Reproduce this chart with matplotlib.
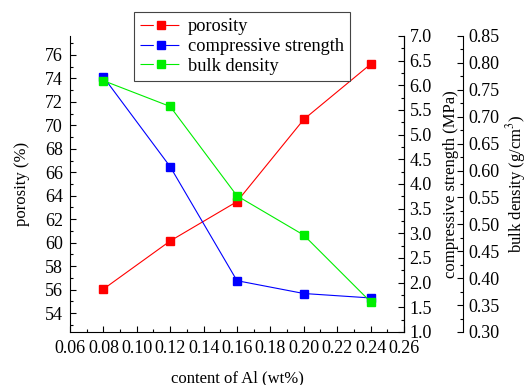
import matplotlib
matplotlib.use("Agg")
import matplotlib.pyplot as plt
from matplotlib.lines import Line2D
from matplotlib.ticker import MultipleLocator

# -----------------------------
# Data
# -----------------------------
al_content = [0.08, 0.12, 0.16, 0.20, 0.24]
porosity = [56.05, 60.15, 63.5, 70.5, 75.2]
strength = [6.17, 4.35, 2.04, 1.78, 1.69]
bulk_density = [0.767, 0.719, 0.553, 0.480, 0.356]

series_names = ["porosity", "compressive strength", "bulk density"]
series_colors = ["red", "blue", "#00ee00"]

plt.rcParams["font.family"] = ["Liberation Serif", "DejaVu Serif"]
plt.rcParams["font.size"] = 13
plt.rcParams["mathtext.fontset"] = "stix"

fig = plt.figure(figsize=(5.29, 3.85), dpi=100)
ax = fig.add_axes([0.1323, 0.1377, 0.6314, 0.7688])
ax2 = ax.twinx()
ax3 = ax.twinx()
ax3.spines["right"].set_position(("axes", 1 + 59 / 334))

line_kw = dict(marker="s", markersize=5.5, linewidth=0.8)
ax.plot(al_content, porosity, color=series_colors[0], **line_kw)
ax2.plot(al_content, strength, color=series_colors[1], **line_kw)
ax3.plot(al_content, bulk_density, color=series_colors[2], **line_kw)

ax.set_xlim(0.06, 0.26)
ax.set_ylim(52.4, 77.6)
ax2.set_ylim(1.0, 7.0)
ax3.set_ylim(0.30, 0.85)

ax.xaxis.set_major_locator(MultipleLocator(0.02))
ax.xaxis.set_minor_locator(MultipleLocator(0.01))
ax.yaxis.set_major_locator(MultipleLocator(2))
ax.yaxis.set_minor_locator(MultipleLocator(1))
ax2.yaxis.set_major_locator(MultipleLocator(0.5))
ax2.yaxis.set_minor_locator(MultipleLocator(0.25))
ax3.yaxis.set_major_locator(MultipleLocator(0.05))
ax3.yaxis.set_minor_locator(MultipleLocator(0.025))

ax.xaxis.set_major_formatter(plt.FuncFormatter(lambda v, p: f"{v:.2f}"))
ax2.yaxis.set_major_formatter(plt.FuncFormatter(lambda v, p: f"{v:.1f}"))
ax3.yaxis.set_major_formatter(plt.FuncFormatter(lambda v, p: f"{v:.2f}"))

for a in (ax, ax2, ax3):
    a.tick_params(which="major", direction="in", length=4, width=0.8, pad=4)
    a.tick_params(which="minor", direction="in", length=2.5, width=0.8)
    for s in a.spines.values():
        s.set_linewidth(0.8)
ax.tick_params(axis="y", which="major", pad=5)
ax.tick_params(axis="x", which="major", pad=5.5)

for a in (ax, ax2, ax3):
    a.spines["top"].set_visible(False)
for a in (ax2, ax3):
    a.spines["left"].set_visible(False)
    a.spines["bottom"].set_visible(False)

ax.set_xlabel("content of Al (wt%)", fontsize=12, labelpad=10)
ax.set_ylabel("porosity (%)", fontsize=12, labelpad=11)
ax2.set_ylabel("compressive strength (MPa)", fontsize=12, labelpad=8)
ax3.set_ylabel("bulk density (g/cm$^3$)", fontsize=12, labelpad=3)

# legend handles: line broken around the marker, as in the original
handles = [Line2D([], [], color=c, marker="s", markersize=5.5, linewidth=0.8,
                  linestyle=(0, (12, 11)), label=n)
           for n, c in zip(series_names, series_colors)]
leg = ax3.legend(handles=handles, loc="upper left",
                 bbox_to_anchor=(64 / 334, 1 + 24 / 296),
                 frameon=True, fancybox=False, edgecolor="#444444",
                 fontsize=13.2, handlelength=2.3, handletextpad=0.3,
                 borderpad=0.35, labelspacing=0.15, borderaxespad=0)
leg.get_frame().set_linewidth(0.8)
leg.get_frame().set_alpha(1)

fig.savefig("out.png", dpi=100)
